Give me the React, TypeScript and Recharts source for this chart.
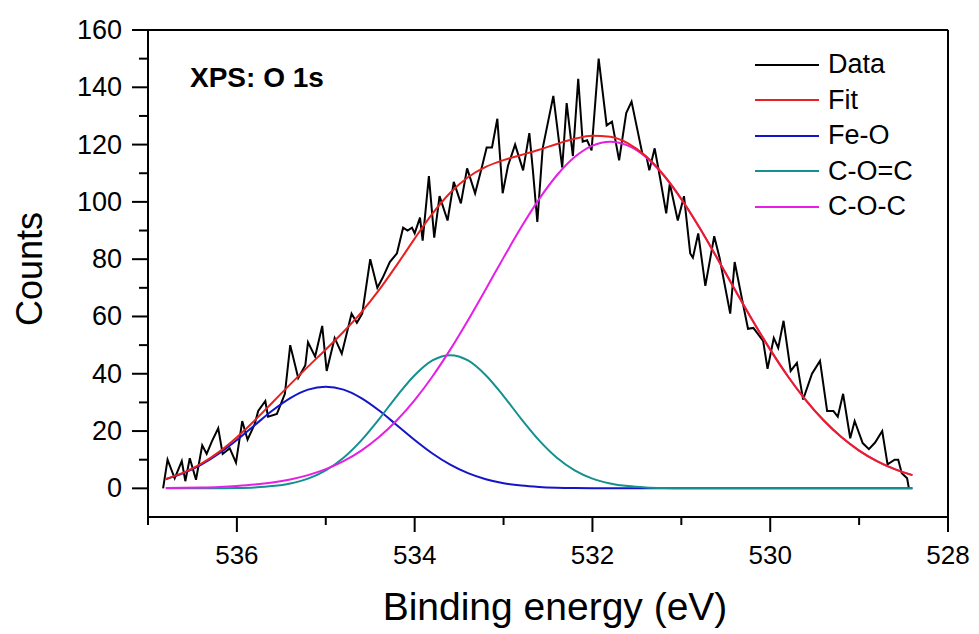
import React from 'react'
import { LineChart, Line, XAxis, YAxis, ReferenceLine, Label } from 'recharts'

// measured spectrum (binding energy in eV, counts)
const dataEnergy = [
  536.83, 536.78, 536.7, 536.62, 536.58, 536.53, 536.46, 536.39, 536.34, 536.28,
  536.21, 536.16, 536.08, 536.01, 535.94, 535.88, 535.8, 535.76, 535.68, 535.65,
  535.55, 535.46, 535.4, 535.31, 535.23, 535.2, 535.12, 535.04, 534.99, 534.9,
  534.82, 534.71, 534.65, 534.59, 534.5, 534.42, 534.36, 534.28, 534.2, 534.13,
  534.08, 534.03, 534.0, 533.94, 533.91, 533.84, 533.78, 533.72, 533.63, 533.56,
  533.48, 533.41, 533.32, 533.24, 533.19, 533.13, 533.07, 533.01, 532.95, 532.87,
  532.78, 532.71, 532.67, 532.62, 532.56, 532.44, 532.34, 532.29, 532.22, 532.16,
  532.11, 532.06, 532.01, 531.93, 531.84, 531.78, 531.7, 531.62, 531.56, 531.5,
  531.44, 531.39, 531.36, 531.3, 531.24, 531.17, 531.13, 531.04, 530.97, 530.9,
  530.87, 530.81, 530.73, 530.63, 530.57, 530.45, 530.4, 530.32, 530.25, 530.19,
  530.08, 530.03, 529.96, 529.91, 529.85, 529.77, 529.7, 529.63, 529.53, 529.44,
  529.36, 529.29, 529.24, 529.18, 529.1, 529.05, 528.96, 528.89, 528.82, 528.74,
  528.68, 528.6, 528.56, 528.52, 528.46, 528.44,
]
const dataCounts = [
  0, 10, 3.5, 9.5, 2.5, 10.5, 3, 15, 12, 16.5,
  21, 12, 14, 9, 23.5, 17, 22.4, 27, 30.5, 25,
  26, 33, 50, 38.5, 43, 51, 46, 56.7, 41, 52.5,
  47, 61, 57.8, 61, 80, 70, 73.5, 79, 82, 91,
  90, 91, 89, 94.5, 86.5, 109, 87.5, 102, 93.5, 107,
  99.5, 111.7, 103, 112.6, 119, 119, 129, 103, 112.6, 120,
  111, 124, 111, 93, 118.7, 137, 112, 134.5, 116, 143,
  121, 121.5, 118, 150, 126.7, 128, 114.5, 131, 135, 126,
  117, 115.5, 111, 118.7, 108.5, 96, 106.4, 93.5, 102, 82,
  80.5, 89, 70.7, 88, 80.5, 61, 79, 66.5, 55.7, 56,
  51.5, 41.7, 52.5, 49, 58.5, 41, 43.8, 31, 40, 44.5,
  27, 27, 25, 33, 17.5, 23.5, 15.8, 13.7, 16, 20,
  8.4, 10, 10, 5.3, 3.5, 0,
]

// fitted curves, sampled every 0.2 eV
const fitEnergy = [
  536.8, 536.6, 536.4, 536.2, 536.0, 535.8, 535.6, 535.4, 535.2, 535.0,
  534.8, 534.6, 534.4, 534.2, 534.0, 533.8, 533.6, 533.4, 533.2, 533.0,
  532.8, 532.6, 532.4, 532.2, 532.0, 531.8, 531.6, 531.4, 531.2, 531.0,
  530.8, 530.6, 530.4, 530.2, 530.0, 529.8, 529.6, 529.4, 529.2, 529.0,
  528.8, 528.6, 528.4,
]
const fitTotal = [
  3.29, 5.48, 8.6, 12.73, 17.84, 23.69, 29.98, 36.31, 42.48, 48.49,
  54.67, 61.45, 69.26, 78.02, 87.18, 95.87, 103.19, 108.62, 112.22, 114.57,
  116.38, 118.22, 120.22, 122.04, 123.09, 122.71, 120.42, 115.98, 109.42, 101.02,
  91.23, 80.54, 69.54, 58.69, 48.42, 39.06, 30.81, 23.75, 17.9, 13.19,
  9.51, 6.7, 4.61,
]
const feO = [
  3.19, 5.29, 8.27, 12.17, 16.88, 22.05, 27.16, 31.5, 34.46, 35.5,
  34.46, 31.5, 27.16, 22.05, 16.88, 12.17, 8.27, 5.29, 3.19, 1.81,
  0.97, 0.49, 0.23, 0.1, 0.04, 0, 0, 0, 0, 0,
  0, 0, 0, 0, 0, 0, 0, 0, 0, 0,
  0, 0, 0,
]
const cOdC = [
  0, 0.01, 0.02, 0.05, 0.13, 0.33, 0.78, 1.71, 3.41, 6.29,
  10.7, 16.76, 24.2, 32.22, 39.49, 44.64, 46.5, 44.64, 39.49, 32.22,
  24.2, 16.76, 10.7, 6.29, 3.41, 1.71, 0.78, 0.33, 0.13, 0.05,
  0.02, 0, 0, 0, 0, 0, 0, 0, 0, 0,
  0, 0, 0,
]
const cOC = [
  0.1, 0.18, 0.31, 0.51, 0.83, 1.31, 2.04, 3.1, 4.61, 6.7,
  9.51, 13.19, 17.9, 23.75, 30.81, 39.06, 48.42, 58.69, 69.54, 80.54,
  91.21, 100.97, 109.29, 115.65, 119.64, 121, 119.64, 115.65, 109.29, 100.97,
  91.21, 80.54, 69.54, 58.69, 48.42, 39.06, 30.81, 23.75, 17.9, 13.19,
  9.51, 6.7, 4.61,
]

const xTicks = [537, 536, 535, 534, 533, 532, 531, 530, 529, 528]
const yTicks = [0, 10, 20, 30, 40, 50, 60, 70, 80, 90, 100, 110, 120, 130, 140, 150, 160]

const series = [
  { key: 'data', name: 'Data', color: '#000000' },
  { key: 'fit', name: 'Fit', color: '#e82020' },
  { key: 'feo', name: 'Fe-O', color: '#1414c8' },
  { key: 'codc', name: 'C-O=C', color: '#149090' },
  { key: 'coc', name: 'C-O-C', color: '#e61ee6' },
]

const FONT = '"Liberation Sans", Arial, sans-serif'

const spectrum = dataEnergy.map((e, i) => ({ e, data: dataCounts[i] }))
const curves = fitEnergy.map((e, i) => ({ e, fit: fitTotal[i], feo: feO[i], codc: cOdC[i], coc: cOC[i] }))

const XTick = (props: any) => {
  const { x, y, payload } = props
  const major = Math.round(payload.value) % 2 === 0
  return (
    <g>
      <line x1={x} y1={y} x2={x} y2={y + (major ? 15 : 8)} stroke="#000" strokeWidth={2} />
      {major && (
        <text x={x} y={y + 47} textAnchor="middle" fontSize={26} fontFamily={FONT} fill="#000">
          {payload.value}
        </text>
      )}
    </g>
  )
}

const YTick = (props: any) => {
  const { x, y, payload } = props
  const major = payload.value % 20 === 0
  return (
    <g>
      <line x1={x - (major ? 16 : 9)} y1={y} x2={x} y2={y} stroke="#000" strokeWidth={2} />
      {major && (
        <text x={x - 26} y={y + 9} textAnchor="end" fontSize={27} fontFamily={FONT} fill="#000">
          {payload.value}
        </text>
      )}
    </g>
  )
}

export default function App() {
  return (
    <div style={{ position: 'absolute', left: 0, top: 0, width: 979, height: 634, background: '#fff' }}>
      <LineChart width={979} height={634} margin={{ top: 30, right: 31, bottom: 0, left: 0 }}>
        <XAxis
          type="number"
          dataKey="e"
          domain={[528, 537]}
          reversed
          ticks={xTicks}
          interval={0}
          tick={<XTick />}
          tickLine={false}
          tickSize={0}
          tickMargin={0}
          axisLine={{ stroke: '#000', strokeWidth: 2 }}
          height={117}
          allowDuplicatedCategory={false}
        >
          <Label
            content={() => (
              <text x={555} y={620} textAnchor="middle" fontSize={39} fontFamily={FONT} fill="#000">
                Binding energy (eV)
              </text>
            )}
          />
        </XAxis>
        <YAxis
          type="number"
          domain={[-10, 160]}
          ticks={yTicks}
          interval={0}
          tick={<YTick />}
          tickLine={false}
          tickSize={0}
          tickMargin={0}
          axisLine={{ stroke: '#000', strokeWidth: 2 }}
          width={148}
        >
          <Label
            content={() => (
              <text
                x={42}
                y={269}
                transform="rotate(-90 42 269)"
                textAnchor="middle"
                fontSize={36}
                fontFamily={FONT}
                fill="#000"
              >
                Counts
              </text>
            )}
          />
        </YAxis>
        <ReferenceLine y={160} stroke="#000" strokeWidth={2} />
        <ReferenceLine x={528} stroke="#000" strokeWidth={2} />
        <Line data={spectrum} dataKey="data" name="Data" type="linear" stroke="#000" strokeWidth={2} dot={false} isAnimationActive={false} />
        <Line data={curves} dataKey="feo" name="Fe-O" type="monotone" stroke="#1414c8" strokeWidth={2} dot={false} isAnimationActive={false} />
        <Line data={curves} dataKey="codc" name="C-O=C" type="monotone" stroke="#149090" strokeWidth={2} dot={false} isAnimationActive={false} />
        <Line data={curves} dataKey="coc" name="C-O-C" type="monotone" stroke="#e61ee6" strokeWidth={2} dot={false} isAnimationActive={false} />
        <Line data={curves} dataKey="fit" name="Fit" type="monotone" stroke="#e82020" strokeWidth={2} dot={false} isAnimationActive={false} />
      </LineChart>
      <div style={{ position: 'absolute', left: 755, top: 47, fontFamily: FONT, fontSize: 27, color: '#000' }}>
        {series.map((s) => (
          <div key={s.key} style={{ display: 'flex', alignItems: 'center', height: 35.5 }}>
            <div style={{ width: 64, height: 2, background: s.color, marginRight: 9 }} />
            <span>{s.name}</span>
          </div>
        ))}
      </div>
      <div
        style={{
          position: 'absolute',
          left: 190,
          top: 62,
          fontFamily: FONT,
          fontWeight: 'bold',
          fontSize: 28,
          lineHeight: '32px',
          color: '#000',
        }}
      >
        XPS: O 1s
      </div>
    </div>
  )
}
